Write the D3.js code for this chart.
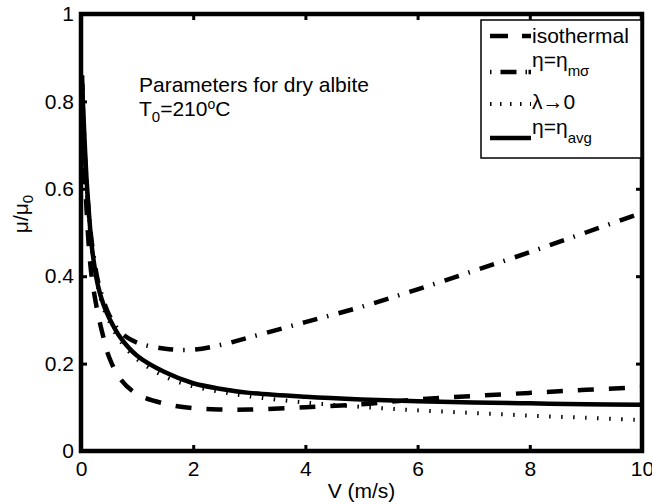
<!DOCTYPE html>
<html><head><meta charset="utf-8">
<script src="https://cdn.jsdelivr.net/npm/d3@7"></script>
<style>body{margin:0;background:#fff}svg{display:block}text{font-family:"Liberation Sans",Arial,Helvetica,sans-serif;fill:#000}</style>
</head><body><svg id="c" width="652" height="504"></svg>
<script>
const V          = [0.02,0.05,0.1,0.15,0.2,0.3,0.4,0.5,0.7,1,1.5,2,2.5,3,4,5,6,7,8,9,10];
const isothermal = [0.86,0.70,0.55,0.45,0.39,0.315,0.26,0.215,0.165,0.13,0.108,0.098,0.095,0.095,0.100,0.107,0.118,0.126,0.133,0.140,0.146];
const etaMsigma  = [0.84,0.73,0.61,0.53,0.47,0.39,0.345,0.312,0.272,0.248,0.234,0.232,0.243,0.260,0.295,0.330,0.370,0.412,0.455,0.500,0.545];
const lambda0    = [0.84,0.74,0.61,0.52,0.455,0.375,0.328,0.297,0.252,0.210,0.170,0.148,0.135,0.125,0.111,0.101,0.093,0.087,0.081,0.076,0.071];
const etaAvg     = [0.84,0.75,0.62,0.53,0.46,0.38,0.335,0.305,0.26,0.218,0.18,0.155,0.142,0.133,0.124,0.118,0.114,0.111,0.109,0.107,0.106];
const xTicks = [0,2,4,6,8,10];
const yTicks = [0,0.2,0.4,0.6,0.8,1];

const svg = d3.select("#c");
const x = d3.scaleLinear().domain([0,10]).range([81,642]);
const y = d3.scaleLinear().domain([0,1]).range([451,14]);

svg.append("clipPath").attr("id","clip").append("rect")
  .attr("x",x(0)).attr("y",y(1)).attr("width",x(10)-x(0)).attr("height",y(0)-y(1));

const series = [
  {vals: isothermal, dash: "16,15", w: 4.5},
  {vals: etaMsigma, dash: "15,10,1.5,10.5", w: 4.5},
  {vals: lambda0, dash: "1.5,10.5", w: 4},
  {vals: etaAvg, dash: null, w: 4.5}
];
const line = d3.line().x(d=>x(d[0])).y(d=>y(d[1])).curve(d3.curveCatmullRom.alpha(0.5));
const g = svg.append("g").attr("clip-path","url(#clip)");
series.forEach(s=>{
  g.append("path").datum(V.map((v,i)=>[v,s.vals[i]]))
   .attr("d",line).attr("fill","none").attr("stroke","#000")
   .attr("stroke-width",s.w).attr("stroke-dasharray",s.dash);
});

// frame
svg.append("rect").attr("x",x(0)).attr("y",y(1)).attr("width",x(10)-x(0)).attr("height",y(0)-y(1))
  .attr("fill","none").attr("stroke","#000").attr("stroke-width",4.5);

// axes (inward ticks)
const axB = d3.axisBottom(x).tickValues(xTicks).tickSize(-6).tickPadding(10).tickFormat(d3.format("d"));
const axT = d3.axisTop(x).tickValues(xTicks).tickSize(-6).tickFormat("");
const axL = d3.axisLeft(y).tickValues(yTicks).tickSize(-6).tickPadding(7).tickFormat(d=>d===0?"0":d===1?"1":d3.format(".1f")(d));
const axR = d3.axisRight(y).tickValues(yTicks).tickSize(-6).tickFormat("");
function style(sel){
  sel.select(".domain").remove();
  sel.selectAll(".tick line").attr("stroke","#000").attr("stroke-width",3);
  sel.selectAll(".tick text").attr("font-size",21).attr("font-family","Liberation Sans, Arial, sans-serif");
}
svg.append("g").attr("transform",`translate(0,${y(0)})`).call(axB).call(style);
svg.append("g").attr("transform",`translate(0,${y(1)})`).call(axT).call(style);
svg.append("g").attr("transform",`translate(${x(0)},0)`).call(axL).call(style);
svg.append("g").attr("transform",`translate(${x(10)},0)`).call(axR).call(style);

// axis labels
svg.append("text").attr("x",(x(0)+x(10))/2).attr("y",498).attr("text-anchor","middle").attr("font-size",21).text("V (m/s)");
const yl = svg.append("text").attr("transform","translate(28,214) rotate(-90)").attr("text-anchor","middle").attr("font-size",21);
yl.append("tspan").text("μ/μ");
yl.append("tspan").attr("dy",5).attr("font-size",15).text("0");

// annotation
svg.append("text").attr("x",139).attr("y",92).attr("font-size",21).text("Parameters for dry albite");
const t0 = svg.append("text").attr("x",139).attr("y",116).attr("font-size",21);
t0.append("tspan").text("T");
t0.append("tspan").attr("dy",6).attr("font-size",15).text("0");
t0.append("tspan").attr("dy",-6).text("=210");
t0.append("tspan").attr("dy",-7).attr("font-size",14).text("o");
t0.append("tspan").attr("dy",7).text("C");

// legend
svg.append("rect").attr("x",481).attr("y",20).attr("width",160).attr("height",138)
  .attr("fill","#fff").attr("stroke","#000").attr("stroke-width",1.5);
const leg = [
  {ly:36, dash:"18,14", w:4.5, parts:[["isothermal",null]], ty:43},
  {ly:72, dash:"1.5,9,16,9,1.5", w:4.5, parts:[["η=η",null],["mσ","sub"]], ty:67},
  {ly:104, dash:"1.5,8.5", w:4, parts:[["λ→0",null]], ty:109},
  {ly:138, dash:null, w:4.5, parts:[["η=η",null],["avg","sub"]], ty:134}
];
leg.forEach(e=>{
  svg.append("line").attr("x1",490).attr("x2",531).attr("y1",e.ly).attr("y2",e.ly)
    .attr("stroke","#000").attr("stroke-width",e.w).attr("stroke-dasharray",e.dash);
  const t = svg.append("text").attr("x",532).attr("y",e.ty).attr("font-size",21);
  e.parts.forEach(p=>{
    if(p[1]==="sub") t.append("tspan").attr("dy",9).attr("font-size",15).text(p[0]);
    else t.append("tspan").text(p[0]);
  });
});
</script></body></html>
